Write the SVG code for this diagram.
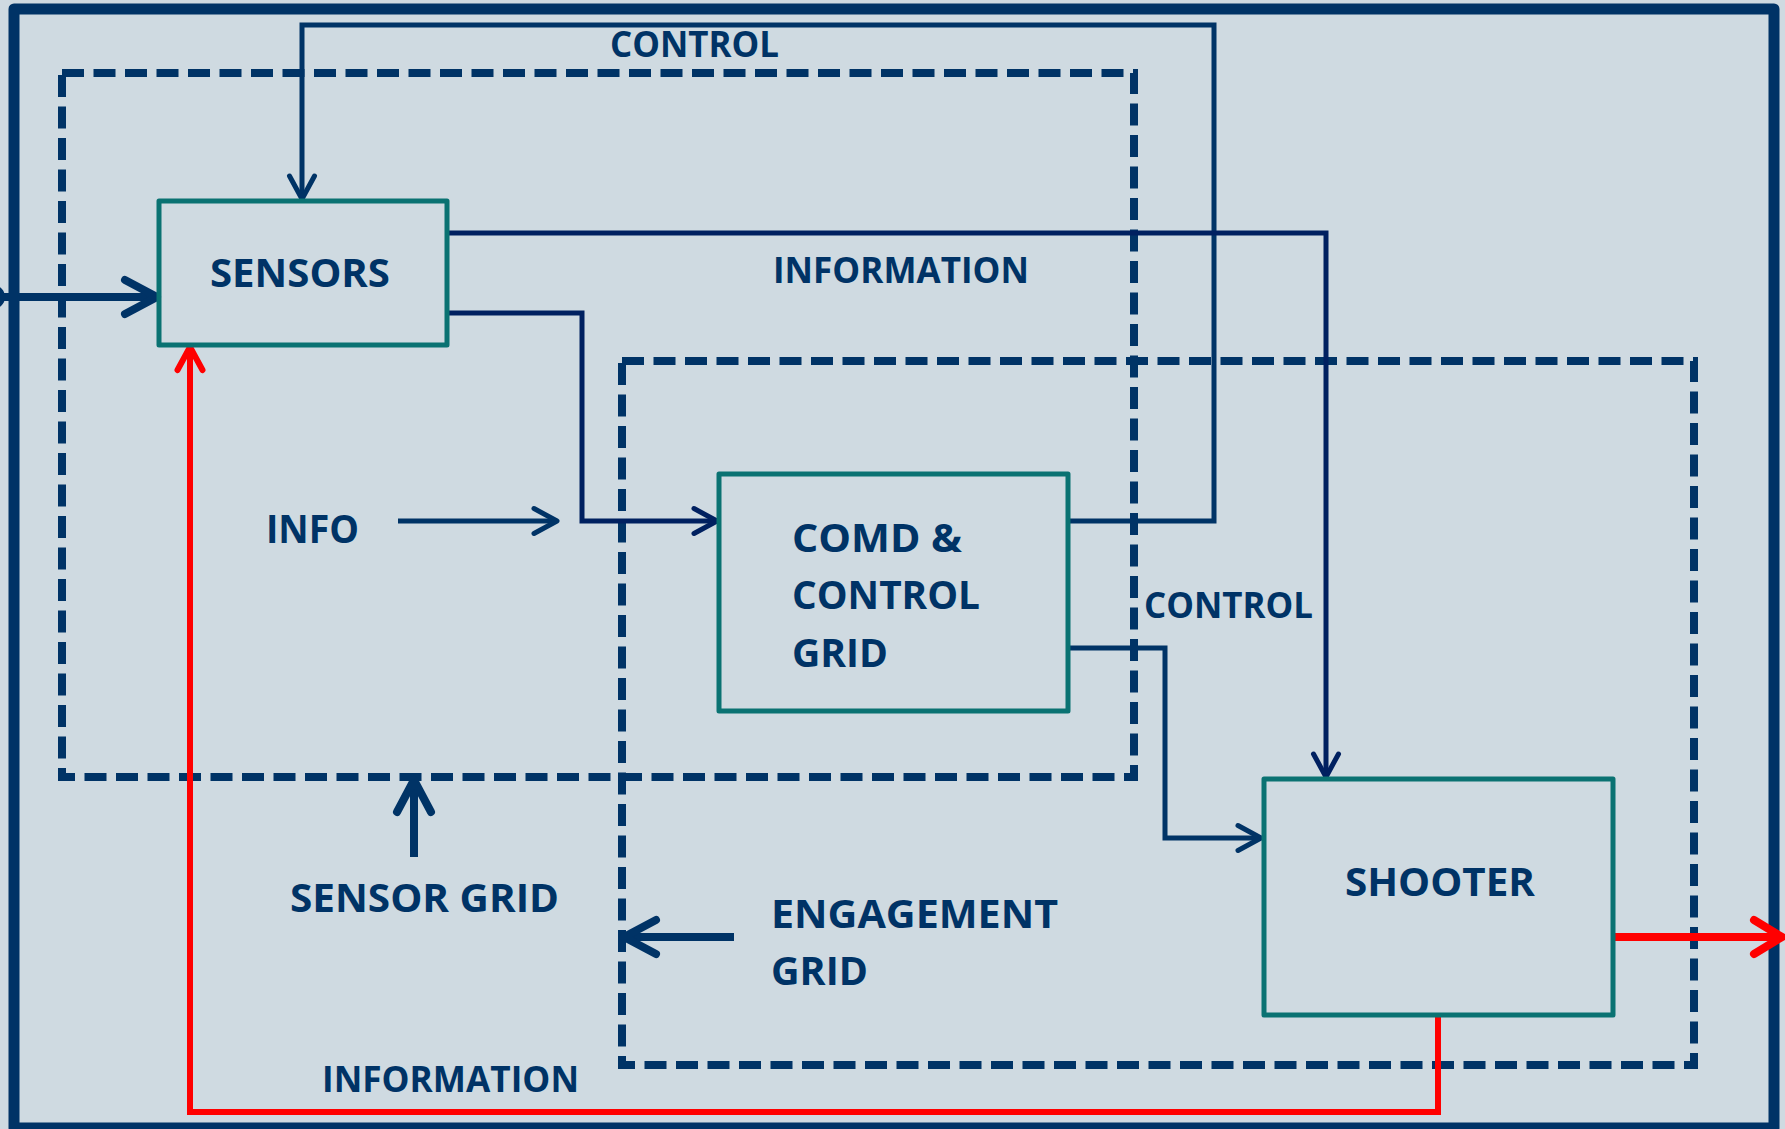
<svg xmlns="http://www.w3.org/2000/svg" width="1785" height="1129" viewBox="0 0 1785 1129">
<style>
.bg{fill:#CFDAE1}
.frame{fill:none;stroke:#003366;stroke-width:11;stroke-linejoin:round}
.grid{fill:none;stroke:#003366;stroke-width:8;stroke-dasharray:22 9.5}
.box{fill:none;stroke:#0A7272;stroke-width:5;stroke-linejoin:round}
.ln{fill:none;stroke:#003366;stroke-width:5}
.ln2{fill:none;stroke:#002060;stroke-width:5}
.thick{fill:none;stroke:#003366;stroke-width:8}
.red{fill:none;stroke:#FF0000;stroke-width:6}
.redT{fill:none;stroke:#FF0000;stroke-width:8}
.t{font-family:"Open Sans","Liberation Sans",sans-serif;font-weight:700;fill:#003366}
.s36{font-size:36px}
.s40{font-size:40px}
</style>
<defs>
<marker id="aN" markerUnits="userSpaceOnUse" viewBox="-40 -25 46 50" refX="0" refY="0" markerWidth="46" markerHeight="50" orient="auto" overflow="visible">
<path d="M-23,-12.5 L0,0 L-23,12.5" fill="none" stroke="#003366" stroke-width="5" stroke-linecap="round" stroke-linejoin="round"/>
</marker>
<marker id="aN2" markerUnits="userSpaceOnUse" viewBox="-40 -25 46 50" refX="0" refY="0" markerWidth="46" markerHeight="50" orient="auto" overflow="visible">
<path d="M-23,-12.5 L0,0 L-23,12.5" fill="none" stroke="#002060" stroke-width="5" stroke-linecap="round" stroke-linejoin="round"/>
</marker>
<marker id="aT" markerUnits="userSpaceOnUse" viewBox="-40 -25 46 50" refX="0" refY="0" markerWidth="46" markerHeight="50" orient="auto" overflow="visible">
<path d="M-32,-17 L0,0 L-32,17" fill="none" stroke="#003366" stroke-width="8" stroke-linecap="round" stroke-linejoin="round"/>
</marker>
<marker id="aR" markerUnits="userSpaceOnUse" viewBox="-40 -25 46 50" refX="0" refY="0" markerWidth="46" markerHeight="50" orient="auto" overflow="visible">
<path d="M-23,-12.5 L0,0 L-23,12.5" fill="none" stroke="#FF0000" stroke-width="6" stroke-linecap="round" stroke-linejoin="round"/>
</marker>
<marker id="aRT" markerUnits="userSpaceOnUse" viewBox="-40 -25 46 50" refX="0" refY="0" markerWidth="46" markerHeight="50" orient="auto" overflow="visible">
<path d="M-28,-17 L0,0 L-28,17" fill="none" stroke="#FF0000" stroke-width="8" stroke-linecap="round" stroke-linejoin="round"/>
</marker>
</defs>
<rect class="bg" x="0" y="0" width="1785" height="1129"/>
<rect class="frame" x="14" y="9" width="1760" height="1119"/>

<g id="sensor-grid">
<rect class="grid" x="62" y="73" width="1072" height="704"/>
<text class="t s40" x="290" y="912" textLength="269" lengthAdjust="spacingAndGlyphs">SENSOR GRID</text>
</g>
<g id="engagement-grid">
<rect class="grid" x="622" y="361" width="1072" height="704"/>
<text class="t s40" x="771" y="928" textLength="287" lengthAdjust="spacingAndGlyphs">ENGAGEMENT</text>
<text class="t s40" x="771" y="985" textLength="97" lengthAdjust="spacingAndGlyphs">GRID</text>
</g>

<g id="connectors">
<circle cx="-7" cy="297" r="10" fill="none" stroke="#003366" stroke-width="4"/>
<path class="thick" d="M0,297 H157" marker-end="url(#aT)"/>
<path class="ln" d="M1070,521 H1214 V25 H302 V199" marker-end="url(#aN)"/>
<path class="ln2" d="M448,233 H1326 V777" marker-end="url(#aN2)"/>
<path class="ln2" d="M448,313 H582 V521 H717" marker-end="url(#aN2)"/>
<path class="ln" d="M398,521 H557" marker-end="url(#aN)"/>
<path class="ln" d="M1070,648 H1165 V838 H1261" marker-end="url(#aN)"/>
<path class="thick" d="M414,857 V780" marker-end="url(#aT)"/>
<path class="thick" d="M734,937 H624" marker-end="url(#aT)"/>
<path class="redT" d="M1615,937 H1782" marker-end="url(#aRT)"/>
<path class="red" d="M1438,1017 V1112 H190 V347" marker-end="url(#aR)"/>
<text class="t s36" x="610" y="57" textLength="169" lengthAdjust="spacingAndGlyphs">CONTROL</text>
<text class="t s36" x="773" y="283" textLength="256" lengthAdjust="spacingAndGlyphs">INFORMATION</text>
<text class="t s40" x="266" y="543" textLength="93" lengthAdjust="spacingAndGlyphs">INFO</text>
<text class="t s36" x="1144" y="618" textLength="169" lengthAdjust="spacingAndGlyphs">CONTROL</text>
<text class="t s36" x="322" y="1092" textLength="257" lengthAdjust="spacingAndGlyphs">INFORMATION</text>
</g>

<g id="sensors">
<rect class="box" x="159" y="201" width="288" height="144"/>
<text class="t s40" x="210" y="287" textLength="180" lengthAdjust="spacingAndGlyphs">SENSORS</text>
</g>
<g id="comd-control-grid">
<rect class="box" x="719" y="474" width="349" height="237"/>
<text class="t s40" x="792" y="552" textLength="170" lengthAdjust="spacingAndGlyphs">COMD &amp;</text>
<text class="t s40" x="792" y="609" textLength="188" lengthAdjust="spacingAndGlyphs">CONTROL</text>
<text class="t s40" x="792" y="667" textLength="96" lengthAdjust="spacingAndGlyphs">GRID</text>
</g>
<g id="shooter">
<rect class="box" x="1264" y="779" width="349" height="236"/>
<text class="t s40" x="1345" y="896" textLength="190" lengthAdjust="spacingAndGlyphs">SHOOTER</text>
</g>
</svg>
